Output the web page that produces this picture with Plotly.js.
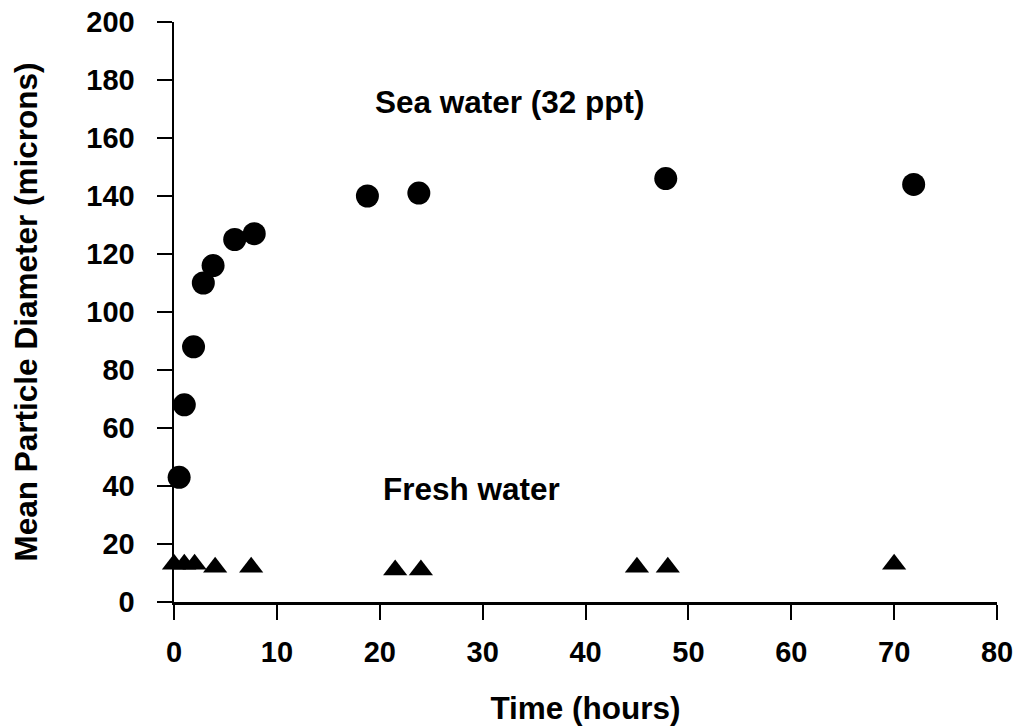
<!DOCTYPE html>
<html>
<head>
<meta charset="utf-8">
<script src="https://cdn.plot.ly/plotly-3.0.1.min.js"></script>
<style>html,body{margin:0;padding:0;background:#fff;}#chart{width:1022px;height:728px;}</style>
</head>
<body>
<div id="chart"></div>
<script>
const seaTime = [0.5, 1.0, 1.9, 2.85, 3.8, 5.9, 7.8, 18.8, 23.8, 47.8, 71.9];
const seaDiameter = [43, 68, 88, 110, 116, 125, 127, 140, 141, 146, 144];
const freshTime = [0, 1, 2, 4, 7.5, 21.5, 24, 45, 48, 70];
const freshDiameter = [13, 13, 13, 12, 12, 11, 11, 12, 12, 13];
const xTicks = [0, 10, 20, 30, 40, 50, 60, 70, 80];
const yTicks = [0, 20, 40, 60, 80, 100, 120, 140, 160, 180, 200];
const labels = [
  {text: 'Sea water (32 ppt)', x: 32.7, y: 172.5},
  {text: 'Fresh water', x: 28.9, y: 39}
];

const font = 'Liberation Sans, Arial, sans-serif';

const traces = [
  {x: seaTime, y: seaDiameter, mode: 'markers', type: 'scatter', name: 'Sea water',
   marker: {symbol: 'circle', size: 23, color: '#000'}, cliponaxis: false},
  {x: freshTime, y: freshDiameter, mode: 'markers', type: 'scatter', name: 'Fresh water',
   marker: {symbol: 'triangle-up', size: 21, color: '#000'}, cliponaxis: false}
];

const layout = {
  width: 1022, height: 728,
  margin: {l: 174, r: 25, t: 22, b: 126},
  paper_bgcolor: '#fff', plot_bgcolor: '#fff',
  showlegend: false,
  font: {family: font, color: '#000', size: 29, weight: 'bold'},
  xaxis: {
    range: [0, 80], tickvals: xTicks, ticktext: xTicks.map(String),
    showgrid: false, zeroline: false, showline: true, linecolor: '#000', linewidth: 2.5,
    ticks: 'outside', ticklen: 15, tickwidth: 2, tickcolor: '#000',
    ticklabelstandoff: 8,
    tickfont: {family: font, size: 29, color: '#000', weight: 'bold'},
    title: {text: 'Time (hours)', font: {family: font, size: 31.5, color: '#000', weight: 'bold'}, standoff: 30}
  },
  yaxis: {
    range: [0, 200], tickvals: yTicks, ticktext: yTicks.map(String),
    showgrid: false, zeroline: false, showline: true, linecolor: '#000', linewidth: 2.5,
    ticks: 'outside', ticklen: 15, tickwidth: 2, tickcolor: '#000',
    ticklabelstandoff: 16,
    tickfont: {family: font, size: 29, color: '#000', weight: 'bold'},
    title: {text: 'Mean Particle Diameter (microns)', font: {family: font, size: 31.5, color: '#000', weight: 'bold'}, standoff: 40}
  },
  annotations: labels.map(l => ({
    text: l.text, x: l.x, y: l.y, xref: 'x', yref: 'y', showarrow: false,
    xanchor: 'center', yanchor: 'middle',
    font: {family: font, size: 31.5, color: '#000', weight: 'bold'}
  }))
};

Plotly.newPlot('chart', traces, layout, {displayModeBar: false, staticPlot: true});
</script>
</body>
</html>
